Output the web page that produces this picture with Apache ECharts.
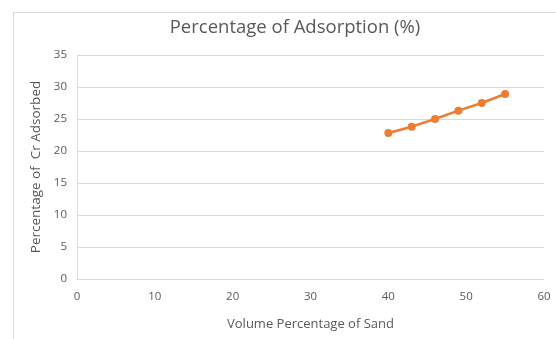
<!DOCTYPE html>
<html>
<head>
<meta charset="utf-8">
<style>
  html, body { margin: 0; padding: 0; background: #ffffff; }
  #chart { width: 556px; height: 339px; }
</style>
<script src="https://cdn.jsdelivr.net/npm/echarts@6/dist/echarts.min.js"></script>
</head>
<body>
<div id="chart"></div>
<script>
// Sand volume (%) and chromium adsorbed (%)
const sandVolume = [40, 43, 46, 49, 52, 55];
const crAdsorbed = [22.8, 23.8, 25.0, 26.3, 27.5, 28.9];

const xTicks = { min: 0, max: 60, interval: 10 };
const yTicks = { min: 0, max: 35, interval: 5 };

const textGrey = '#595959';
const lineGrey = '#d9d9d9';
const font = 'Open Sans';

const chart = echarts.init(document.getElementById('chart'), null, { renderer: 'canvas' });

chart.setOption({
  backgroundColor: '#ffffff',
  animation: false,
  graphic: [{
    type: 'rect',
    shape: { x: 13.5, y: 12.5, width: 600, height: 400 },
    style: { fill: 'none', stroke: lineGrey, lineWidth: 1 },
    silent: true,
    z: -1
  }],
  title: {
    text: 'Percentage of Adsorption (%)',
    left: 290,
    top: 13,
    textAlign: 'center',
    textStyle: { color: textGrey, fontFamily: font, fontSize: 18.5, fontWeight: 'normal' }
  },
  grid: { left: 77, right: 12, top: 55, bottom: 60, containLabel: false },
  xAxis: {
    type: 'value',
    min: xTicks.min, max: xTicks.max, interval: xTicks.interval,
    name: 'Volume Percentage of Sand',
    nameLocation: 'middle',
    nameGap: 39,
    nameTextStyle: { color: textGrey, fontFamily: font, fontSize: 13 },
    axisLine: { show: true, lineStyle: { color: lineGrey, width: 1 } },
    axisTick: { show: false },
    axisLabel: { color: textGrey, fontFamily: font, fontSize: 11.5, margin: 12 },
    splitLine: { show: false }
  },
  yAxis: {
    type: 'value',
    min: yTicks.min, max: yTicks.max, interval: yTicks.interval,
    name: 'Percentage of  Cr Adsorbed',
    nameLocation: 'middle',
    nameGap: 33,
    nameTextStyle: { color: textGrey, fontFamily: font, fontSize: 13.5 },
    axisLine: { show: true, lineStyle: { color: lineGrey, width: 1 } },
    axisTick: { show: false },
    axisLabel: { color: textGrey, fontFamily: font, fontSize: 11.5, margin: 10 },
    splitLine: { show: true, lineStyle: { color: lineGrey, width: 1 } }
  },
  series: [{
    type: 'line',
    data: sandVolume.map((x, i) => [x, crAdsorbed[i]]),
    symbol: 'circle',
    symbolSize: 8,
    itemStyle: { color: '#ED7D31' },
    lineStyle: { color: '#ED7D31', width: 2.5 }
  }]
});
</script>
</body>
</html>
